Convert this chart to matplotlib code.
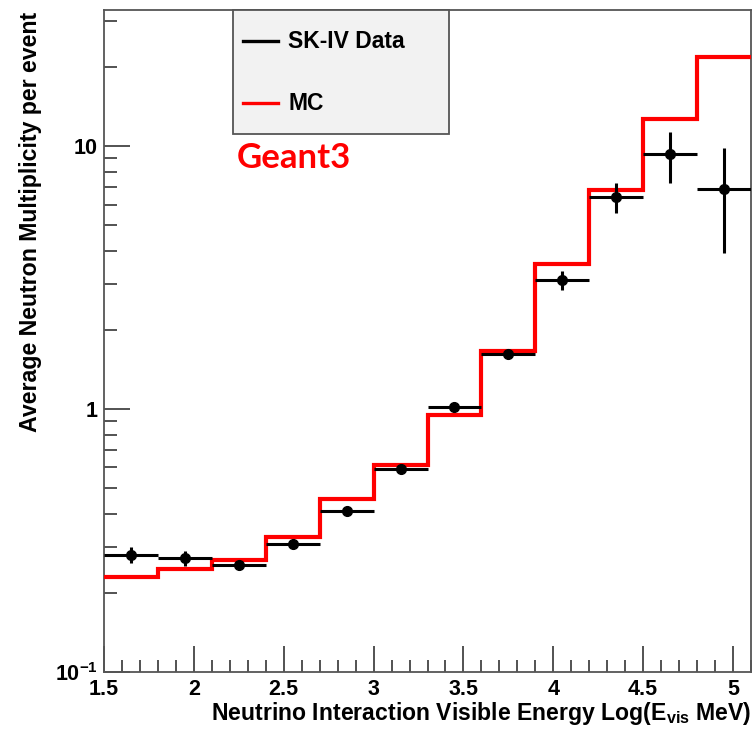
import numpy as np
import matplotlib.pyplot as plt
from matplotlib.lines import Line2D
from matplotlib.patches import Rectangle
from matplotlib.ticker import MultipleLocator, FixedLocator, FixedFormatter, NullFormatter, FormatStrFormatter

plt.rcParams['font.family'] = ['Liberation Sans', 'DejaVu Sans']
plt.rcParams['font.weight'] = 'bold'
plt.rcParams['mathtext.fontset'] = 'custom'
plt.rcParams['mathtext.rm'] = 'Liberation Sans:bold'
plt.rcParams['mathtext.bf'] = 'Liberation Sans:bold'
plt.rcParams['mathtext.it'] = 'Liberation Sans:bold'
plt.rcParams['axes.unicode_minus'] = False

# ----- Data -----
edges = [1.5, 1.8, 2.1, 2.4, 2.7, 3.0, 3.3, 3.6, 3.9, 4.2, 4.5, 4.8, 5.1]
mc = [0.230, 0.246, 0.267, 0.326, 0.455, 0.612, 0.948, 1.66, 3.56, 6.81, 12.7, 21.8]
data = [0.279, 0.271, 0.255, 0.307, 0.409, 0.592, 1.018, 1.62, 3.09, 6.40, 9.33, 6.87]
data_err = [0.020, 0.017, 0.006, 0.008, 0.010, 0.015, 0.03, 0.05, 0.25, 0.82, 2.05, 2.95]
ytick_vals = [0.1, 1, 10]
ytick_labels = ["$\\mathregular{10^{-1}}$", "1", "10"]

centers = [(a + b) / 2 for a, b in zip(edges[:-1], edges[1:])]
halfw = [(b - a) / 2 for a, b in zip(edges[:-1], edges[1:])]

# ----- Plot -----
W, H = 756, 734
fig = plt.figure(figsize=(W / 100, H / 100), dpi=100)
ax = fig.add_axes([104 / W, 62 / H, 647 / W, 662 / H])

ax.stairs(mc, edges, color="red", lw=3.0, baseline=None, zorder=3)
ax.errorbar(centers, data, xerr=halfw, yerr=data_err, fmt="o", color="black",
            ms=7, lw=2.2, capsize=0, zorder=4)

ax.set_yscale("log")
ax.set_xlim(1.5, 5.1)
ax.set_ylim(0.1, 33)

ax.xaxis.set_major_locator(MultipleLocator(0.5))
ax.xaxis.set_minor_locator(MultipleLocator(0.1))
ax.xaxis.set_major_formatter(FormatStrFormatter("%g"))
ax.yaxis.set_major_locator(FixedLocator(ytick_vals))
ax.yaxis.set_major_formatter(FixedFormatter(ytick_labels))
ax.yaxis.set_minor_formatter(NullFormatter())

ax.tick_params(axis="both", which="both", direction="in", color="#444444",
               width=1.3, labelsize=15.5)
ax.tick_params(axis="both", which="major", length=19)
ax.tick_params(axis="both", which="minor", length=9)
ax.tick_params(axis="x", pad=5)
ax.tick_params(axis="y", pad=4.5)
for s in ax.spines.values():
    s.set_color("#555555")
    s.set_linewidth(1.3)

ax.set_xlabel("Neutrino Interaction Visible Energy Log(E$_{\\mathregular{vis}}$ MeV)",
              fontsize=16.6, fontweight="bold", loc="right", labelpad=0)
ax.set_ylabel("Average Neutron Multiplicity per event", fontsize=16.7,
              fontweight="bold", loc="top")
ax.yaxis.set_label_coords(-62 / 647, 0.997)

# legend box (ROOT style)
fig.add_artist(Rectangle((233 / W, 1 - 134 / H), 216 / W, 124 / H,
                         transform=fig.transFigure, facecolor="#f2f2f2",
                         edgecolor="#555555", lw=1.3, zorder=5))
legend_items = [("SK-IV Data", "black", 41), ("MC", "red", 103)]
for label, col, ypix in legend_items:
    fig.add_artist(Line2D([243 / W, 278 / W], [1 - ypix / H] * 2,
                          transform=fig.transFigure, color=col, lw=2.4, zorder=6))
    fig.text(288 / W, 1 - ypix / H, label, fontsize=16.5, fontweight="bold",
             ha="left", va="center", zorder=6)

fig.text(237 / W, 1 - 158 / H, "Geant3", color="red", fontsize=25, fontweight="bold",
         family=["Lato", "DejaVu Sans"], ha="left", va="center")

fig.savefig("out.png", dpi=100)
